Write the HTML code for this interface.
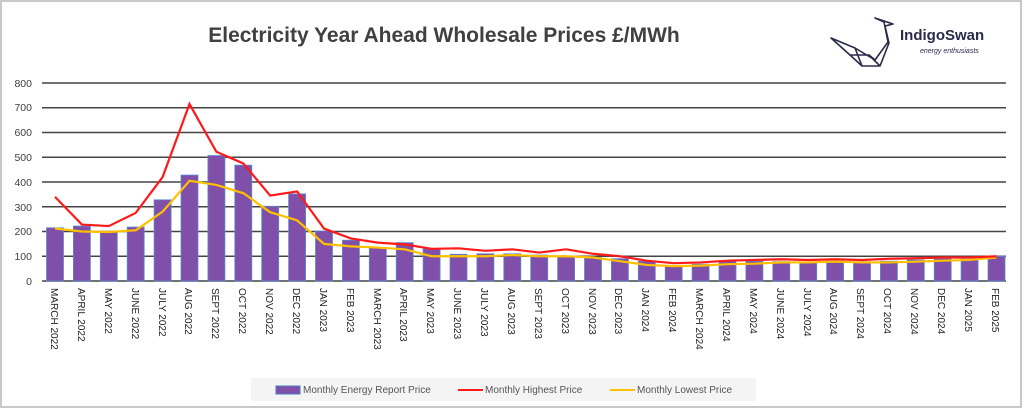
<!DOCTYPE html>
<html><head><meta charset="utf-8"><style>
html,body{margin:0;padding:0;background:#fff}
svg{display:block;font-family:"Liberation Sans",sans-serif}
</style></head><body>
<svg id="s" width="1024" height="410" viewBox="0 0 1024 410">
<rect x="0" y="0" width="1024" height="410" fill="#fff"/>
<rect x="1" y="1" width="1020" height="406" fill="none" stroke="#c8c8c8" stroke-width="2"/>
<text x="444" y="42" font-size="21" font-weight="bold" fill="#404040" text-anchor="middle">Electricity Year Ahead Wholesale Prices £/MWh</text>
<g fill="none" stroke="#2a2a4a" stroke-width="1.6" stroke-linejoin="round">
<path d="M831 38 L855 48 L875 60 L888 42 L884 22 L875 18 L893 24 L885 26 L889 43 L880 66 L862 66 L850 55 Z M855 48 L862 66 M850 55 L869 55 L875 60 M869 55 L880 66"/>
</g>
<text x="900" y="40" font-size="15" font-weight="bold" fill="#2a2a4a">IndigoSwan</text>
<text x="920" y="53" font-size="7" font-style="italic" fill="#2a2a4a">energy enthusiasts</text>
<g font-size="10.5" fill="#404040" text-anchor="end">
<text x="32" y="87">800</text><text x="32" y="111">700</text><text x="32" y="136">600</text><text x="32" y="161">500</text><text x="32" y="186">400</text><text x="32" y="211">300</text><text x="32" y="235">200</text><text x="32" y="260">100</text><text x="32" y="285">0</text>
</g>
<g id="grid" stroke="#444" stroke-width="1.6"></g>
<g id="bars"></g>
<polyline id="lo" fill="none" stroke="#ffc000" stroke-width="2.2"/>
<polyline id="hi" fill="none" stroke="#ff1a1a" stroke-width="2.2"/>
<g font-size="10" fill="#222">
<text transform="translate(51,288) rotate(90)">MARCH 2022</text>
<text transform="translate(78,288) rotate(90)">APRIL 2022</text>
<text transform="translate(105,288) rotate(90)">MAY 2022</text>
<text transform="translate(132,288) rotate(90)">JUNE 2022</text>
<text transform="translate(159,288) rotate(90)">JULY 2022</text>
<text transform="translate(185,288) rotate(90)">AUG 2022</text>
<text transform="translate(212,288) rotate(90)">SEPT 2022</text>
<text transform="translate(239,288) rotate(90)">OCT 2022</text>
<text transform="translate(266,288) rotate(90)">NOV 2022</text>
<text transform="translate(293,288) rotate(90)">DEC 2022</text>
<text transform="translate(320,288) rotate(90)">JAN 2023</text>
<text transform="translate(347,288) rotate(90)">FEB 2023</text>
<text transform="translate(374,288) rotate(90)">MARCH 2023</text>
<text transform="translate(400,288) rotate(90)">APRIL 2023</text>
<text transform="translate(427,288) rotate(90)">MAY 2023</text>
<text transform="translate(454,288) rotate(90)">JUNE 2023</text>
<text transform="translate(481,288) rotate(90)">JULY 2023</text>
<text transform="translate(508,288) rotate(90)">AUG 2023</text>
<text transform="translate(535,288) rotate(90)">SEPT 2023</text>
<text transform="translate(562,288) rotate(90)">OCT 2023</text>
<text transform="translate(589,288) rotate(90)">NOV 2023</text>
<text transform="translate(615,288) rotate(90)">DEC 2023</text>
<text transform="translate(642,288) rotate(90)">JAN 2024</text>
<text transform="translate(669,288) rotate(90)">FEB 2024</text>
<text transform="translate(696,288) rotate(90)">MARCH 2024</text>
<text transform="translate(723,288) rotate(90)">APRIL 2024</text>
<text transform="translate(750,288) rotate(90)">MAY 2024</text>
<text transform="translate(777,288) rotate(90)">JUNE 2024</text>
<text transform="translate(804,288) rotate(90)">JULY 2024</text>
<text transform="translate(830,288) rotate(90)">AUG 2024</text>
<text transform="translate(857,288) rotate(90)">SEPT 2024</text>
<text transform="translate(884,288) rotate(90)">OCT 2024</text>
<text transform="translate(911,288) rotate(90)">NOV 2024</text>
<text transform="translate(938,288) rotate(90)">DEC 2024</text>
<text transform="translate(965,288) rotate(90)">JAN 2025</text>
<text transform="translate(992,288) rotate(90)">FEB 2025</text>
</g>
<rect x="251" y="378" width="505" height="23" fill="#f4f4f4"/>
<rect x="276" y="386" width="24" height="8" fill="#7f4fa9" stroke="#4a7cc0" stroke-width="1"/>
<text x="303" y="393" font-size="10" fill="#555">Monthly Energy Report Price</text>
<line x1="458" y1="390" x2="483" y2="390" stroke="#ff1a1a" stroke-width="2"/>
<text x="485" y="393" font-size="10" fill="#555">Monthly Highest Price</text>
<line x1="610" y1="390" x2="635" y2="390" stroke="#ffc000" stroke-width="2"/>
<text x="637" y="393" font-size="10" fill="#555">Monthly Lowest Price</text>
</svg>
<script>
var bars=[215,222,198,218,328,428,507,468,302,352,202,165,135,155,130,108,110,110,105,98,95,90,80,62,68,80,80,78,75,80,78,80,85,90,88,100];
var hi=[340,228,222,275,420,715,522,475,345,362,212,172,155,148,130,132,122,128,115,128,110,100,82,72,75,82,85,88,85,88,85,90,92,95,95,100];
var lo=[212,200,198,205,280,405,388,355,278,245,150,140,135,128,100,100,100,105,100,100,95,80,65,60,62,68,70,75,75,78,75,75,78,82,85,95];
var NS="http://www.w3.org/2000/svg";
function Y(v){return 281-v*0.2475;}
function X(i){return 55+26.9*i;}
var g=document.getElementById('grid');
for(var k=0;k<=8;k++){var l=document.createElementNS(NS,'line');l.setAttribute('x1',42);l.setAttribute('x2',1006);l.setAttribute('y1',Y(k*100));l.setAttribute('y2',Y(k*100));g.appendChild(l);}
var b=document.getElementById('bars');
bars.forEach(function(v,i){var r=document.createElementNS(NS,'rect');r.setAttribute('x',X(i)-8.5);r.setAttribute('width',17);r.setAttribute('y',Y(v));r.setAttribute('height',281-Y(v));r.setAttribute('fill','#7f4fa9');r.setAttribute('stroke','#5b8ad0');r.setAttribute('stroke-width','0.8');b.appendChild(r);});
function pts(a){return a.map(function(v,i){return X(i)+','+Y(v)}).join(' ');}
document.getElementById('hi').setAttribute('points',pts(hi));
document.getElementById('lo').setAttribute('points',pts(lo));
</script>
</body></html>
